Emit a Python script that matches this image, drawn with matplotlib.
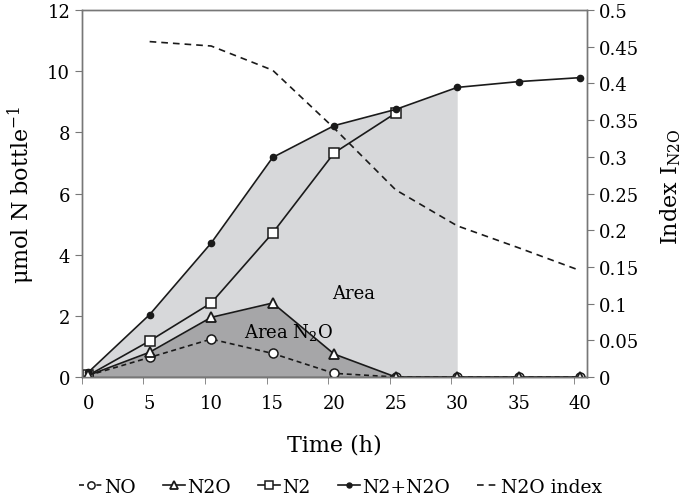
import numpy as np
import matplotlib
matplotlib.use("Agg")
from matplotlib import pyplot as plt
from matplotlib.ticker import FuncFormatter

plt.rcParams["font.family"] = ["DejaVu Serif"]
plt.rcParams["mathtext.fontset"] = "dejavuserif"

# Sampling times (h) and gas amounts (umol N per bottle)
time_h = [0, 5, 10, 15, 20, 25, 30, 35, 40]
no = [0.05, 0.64, 1.24, 0.77, 0.12, 0.0, 0.0, 0.0, 0.0]
n2o = [0.05, 0.81, 1.95, 2.42, 0.75, 0.0, 0.0, 0.0, 0.0]
n2 = [0.05, 1.18, 2.42, 4.71, 7.33, 8.63, np.nan, np.nan, np.nan]
n2_n2o = [0.15, 2.04, 4.38, 7.18, 8.22, 8.75, 9.47, 9.66, 9.79]
# N2O index (right axis), no value at t=0
index_time = [5, 10, 15, 20, 25, 30, 35, 40]
n2o_index = [0.457, 0.451, 0.418, 0.339, 0.255, 0.206, 0.176, 0.145]

line_col = "#1a1a1a"
fig = plt.figure(figsize=(6.82, 5.02), dpi=100)
ax = fig.add_axes([0.1202, 0.247, 0.7405, 0.731])
ax2 = ax.twinx()

t = np.array(time_h)
# shaded areas: total N2+N2O up to 30 h, N2O up to 25 h
m30 = t <= 30
ax.fill_between(t[m30], np.array(n2_n2o)[m30], 0, color="#d7d8da", lw=0, zorder=1)
m25 = t <= 25
ax.fill_between(t[m25], np.array(n2o)[m25], 0, color="#a6a6a8", lw=0, zorder=2)

l_no, = ax.plot(time_h, no, ls=(0, (3, 2.2)), color=line_col, lw=1.2, marker="o",
                ms=6.5, mfc="white", mec=line_col, mew=1.1, zorder=4, label="NO")
l_n2o, = ax.plot(time_h, n2o, ls="-", color=line_col, lw=1.2, marker="^",
                 ms=7.5, mfc="white", mec=line_col, mew=1.3, zorder=5, label="N2O")
l_n2, = ax.plot(time_h, n2, ls="-", color=line_col, lw=1.2, marker="s",
                ms=7, mfc="white", mec=line_col, mew=1.1, zorder=4, label="N2")
l_tot, = ax.plot(time_h, n2_n2o, ls="-", color=line_col, lw=1.2, marker="o",
                 ms=4.5, mfc=line_col, mec=line_col, zorder=4, label="N2+N2O")
l_idx, = ax2.plot(index_time, n2o_index, ls=(0, (4, 3)), color=line_col, lw=1.2,
                  label="N2O index")

ax.text(21.6, 2.75, "Area", fontsize=13, ha="center", va="center", zorder=6)
ax.text(16.3, 1.5, "Area N$_2$O", fontsize=13, ha="center", va="center", zorder=6)

ax.set_xlim(-0.5, 40.55)
ax.set_ylim(0, 12)
ax2.set_ylim(0, 0.5)

# labels centred on sampling times, tick marks just left of them
ax.set_xticks(time_h)
ax.set_xticks(np.array(time_h) - 0.5, minor=True)
ax.tick_params(axis="x", which="major", length=0, pad=12, labelsize=13)
ax.tick_params(axis="x", which="minor", length=5, direction="out", color="#777777")
ax.set_yticks(range(0, 13, 2))
ax.tick_params(axis="y", length=5, labelsize=13, color="#777777")
ax2.set_yticks(np.arange(0, 0.501, 0.05))
ax2.yaxis.set_major_formatter(FuncFormatter(lambda v, p: f"{v:.2f}".rstrip("0").rstrip(".")))
ax2.tick_params(axis="y", length=5, labelsize=13, color="#777777")

for a in (ax, ax2):
    for s in a.spines.values():
        s.set_color("#777777")
        s.set_linewidth(1.0)
ax.spines["bottom"].set_color(line_col)

ax.set_xlabel("Time (h)", fontsize=16, labelpad=16)
fig.text(0.031, 0.612, "\u03bcmol N bottle$^{-1}$", fontsize=16, rotation=90,
         ha="center", va="center")
fig.text(0.983, 0.628, "Index I$_{\\mathrm{N2O}}$", fontsize=16, rotation=90,
         ha="center", va="center")

fig.legend(handles=[l_no, l_n2o, l_n2, l_tot, l_idx], loc="center",
           bbox_to_anchor=(0.5, 0.028), ncol=5, frameon=False, fontsize=13.5,
           handlelength=1.2, handletextpad=0.1, columnspacing=1.45, borderaxespad=0,
           markerscale=0.8)

fig.savefig("out.png", dpi=100)
